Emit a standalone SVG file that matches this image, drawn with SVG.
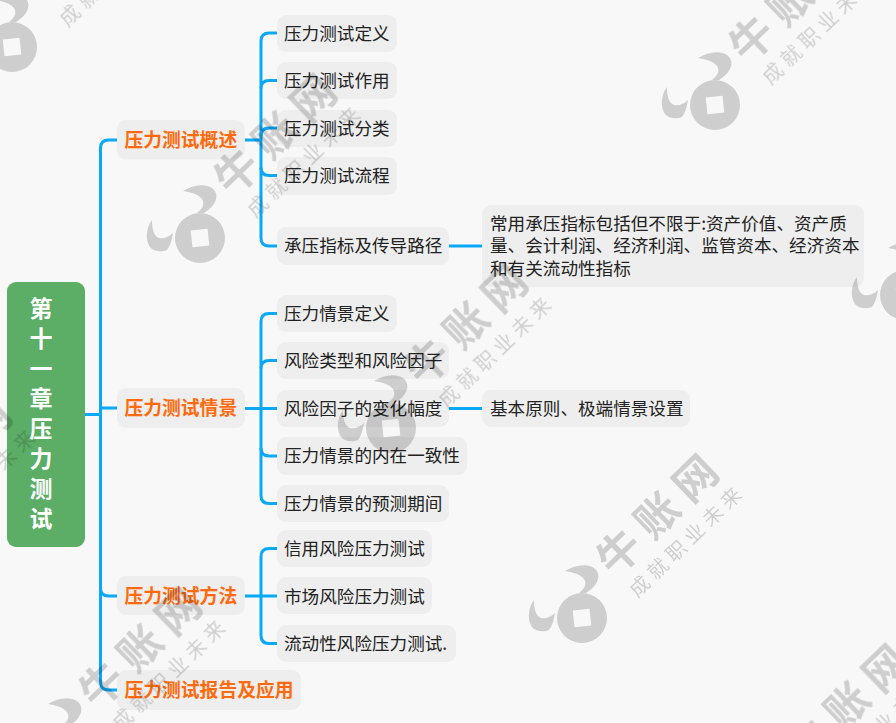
<svg xmlns="http://www.w3.org/2000/svg" xmlns:xlink="http://www.w3.org/1999/xlink" width="896" height="723" viewBox="0 0 896 723">
<style>
text{font-family:"Noto Sans CJK SC","Noto Sans",sans-serif}
.b{fill:#eeeeee}
.c{font-size:17.6px;fill:#222222}
.p{font-size:18.8px;font-weight:700;fill:#ff6a0d}
.r{font-size:23px;font-weight:700;fill:#ffffff;text-anchor:middle}
.l{fill:none;stroke:#0aa9f7;stroke-width:3;stroke-linecap:butt}
.w{fill:#000000;opacity:.17}
.wb{font-size:43px;font-weight:700;letter-spacing:10px}
.ws{font-size:20px;letter-spacing:5.4px}
</style>
<defs>
<filter id="soft" x="-5%" y="-5%" width="110%" height="110%"><feGaussianBlur stdDeviation="0.5"/></filter>
<g id="wm">
<path fill-rule="evenodd" d="M0-25A25 25 0 1 1 0 25A25 25 0 1 1 0-25ZM-9.3-7.5L7.5-9.3L9.3 7.5L-7.5 9.3Z"/>
<path d="M-17-47C-8-53 5-55 12-50C20-44 17-33 4-25L-3-25C3-30 5-34 2-39C-2-44-10-46-17-47Z"/>
<path d="M-48-18C-54-10-55 2-50 9C-46 14-38 14-33 12C-30 8-28 2-27-5C-31-1-36 1-41 0C-46-2-48-8-48-18Z"/>
<g transform="rotate(-44)">
<text class="wb" x="51" y="-6">牛账网</text>
<text class="ws" x="53.500" y="24.500">成就职业未来</text>
</g>
</g>
</defs>
<rect width="896" height="723" fill="#f8f8f8"/>
<g id="connectors" class="l">
<path d="M85 414.5H100.5"/>
<path d="M117 140H108.500Q100.500 140 100.500 148V682Q100.500 690 108.500 690H117"/>
<path d="M100.500 408H117"/>
<path d="M100.500 588Q100.500 596 108.500 596H117"/>
<path d="M245 140H261"/>
<path d="M277 33H269Q261 33 261 41V238Q261 246 269 246H277"/>
<path d="M277 80.500H269Q261 80.500 261 88.500"/>
<path d="M277 128H269Q261 128 261 136"/>
<path d="M261 167.500Q261 175.500 269 175.500H277"/>
<path d="M449 246H482"/>
<path d="M245 408.500H277"/>
<path d="M277 313.500H269Q261 313.500 261 321.500V495.500Q261 503.500 269 503.500H277"/>
<path d="M277 360.500H269Q261 360.500 261 368.500"/>
<path d="M261 448Q261 456 269 456H277"/>
<path d="M449 408.500H482"/>
<path d="M245 596H277"/>
<path d="M277 548.500H269Q261 548.500 261 556.500V635.500Q261 643.500 269 643.500H277"/>
</g>
<g id="root"><rect x="7" y="282" width="78" height="265" rx="9" fill="#5cad66"/>
<text class="r" x="41" y="317">第</text><text class="r" x="41" y="347">十</text><text class="r" x="41" y="377">一</text><text class="r" x="41" y="407">章</text><text class="r" x="41" y="437">压</text><text class="r" x="41" y="467">力</text><text class="r" x="41" y="497">测</text><text class="r" x="41" y="527">试</text></g>
<g id="n1"><rect class="b" x="117" y="120" width="128" height="39.500" rx="9"/><text class="p" x="124.500" y="147">压力测试概述</text></g>
<g id="n11"><rect class="b" x="277" y="15" width="120" height="37" rx="9"/><text class="c" x="284" y="39.500">压力测试定义</text></g>
<g id="n12"><rect class="b" x="277" y="62" width="120" height="37" rx="9"/><text class="c" x="284" y="87">压力测试作用</text></g>
<g id="n13"><rect class="b" x="277" y="110" width="120" height="37" rx="9"/><text class="c" x="284" y="134.500">压力测试分类</text></g>
<g id="n14"><rect class="b" x="277" y="157" width="120" height="38" rx="9"/><text class="c" x="284" y="182">压力测试流程</text></g>
<g id="n15"><rect class="b" x="277" y="227" width="172" height="38" rx="9"/><text class="c" x="284" y="252">承压指标及传导路径</text></g>
<g id="n151"><rect class="b" x="482" y="205" width="382" height="82" rx="9"/><text class="c" x="490" y="230">常用承压指标包括但不限于:资产价值、资产质</text><text class="c" x="490" y="252">量、会计利润、经济利润、监管资本、经济资本</text><text class="c" x="490" y="275">和有关流动性指标</text></g>
<g id="n2"><rect class="b" x="117" y="388" width="128" height="40" rx="9"/><text class="p" x="124.500" y="415">压力测试情景</text></g>
<g id="n21"><rect class="b" x="277" y="295" width="120" height="37" rx="9"/><text class="c" x="284" y="320">压力情景定义</text></g>
<g id="n22"><rect class="b" x="277" y="342" width="172" height="37" rx="9"/><text class="c" x="284" y="367">风险类型和风险因子</text></g>
<g id="n23"><rect class="b" x="277" y="390" width="172" height="37" rx="9"/><text class="c" x="284" y="415">风险因子的变化幅度</text></g>
<g id="n231"><rect class="b" x="482" y="390" width="208" height="37" rx="9"/><text class="c" x="490" y="415">基本原则、极端情景设置</text></g>
<g id="n24"><rect class="b" x="277" y="437" width="190" height="38" rx="9"/><text class="c" x="284" y="462">压力情景的内在一致性</text></g>
<g id="n25"><rect class="b" x="277" y="485" width="172" height="37" rx="9"/><text class="c" x="284" y="510">压力情景的预测期间</text></g>
<g id="n3"><rect class="b" x="117" y="576" width="128" height="39" rx="9"/><text class="p" x="124.500" y="603">压力测试方法</text></g>
<g id="n31"><rect class="b" x="277" y="530" width="155" height="37" rx="9"/><text class="c" x="284" y="555">信用风险压力测试</text></g>
<g id="n32"><rect class="b" x="277" y="577" width="155" height="37" rx="9"/><text class="c" x="284" y="602.500">市场风险压力测试</text></g>
<g id="n33"><rect class="b" x="277" y="625" width="179" height="37" rx="9"/><text class="c" x="284" y="650">流动性风险压力测试.</text></g>
<g id="n4"><rect class="b" x="117" y="670" width="184" height="40" rx="9"/><text class="p" x="124.500" y="697">压力测试报告及应用</text></g>
<g id="watermark" class="w">
<use xlink:href="#wm" href="#wm" transform="translate(12 47)"/>
<use xlink:href="#wm" href="#wm" transform="translate(200 238)"/>
<use xlink:href="#wm" href="#wm" transform="translate(391 428)"/>
<use xlink:href="#wm" href="#wm" transform="translate(582 618)"/>
<use xlink:href="#wm" href="#wm" transform="translate(772 808)"/>
<use xlink:href="#wm" href="#wm" transform="translate(715 105)"/>
<use xlink:href="#wm" href="#wm" transform="translate(905 295)"/>
<use xlink:href="#wm" href="#wm" transform="translate(-125 561)"/>
<use xlink:href="#wm" href="#wm" transform="translate(65 751)"/>
</g>
</svg>
